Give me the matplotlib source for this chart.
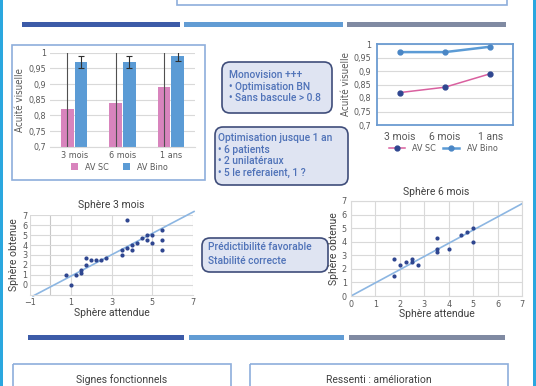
import matplotlib
matplotlib.use("Agg")
import matplotlib.pyplot as plt
from matplotlib.patches import Rectangle, FancyBboxPatch
import numpy as np

W, H = 536, 386

periods = ["3 mois", "6 mois", "1 ans"]
av_sc = [0.82, 0.84, 0.89]
av_bino = [0.97, 0.97, 0.99]
err_sc = [0.2, 0.2, 0.2]
err_bino = [0.018, 0.018, 0.015]
acuity_ticks = [0.7, 0.75, 0.8, 0.85, 0.9, 0.95, 1.0]
acuity_labels = ["0,7", "0,75", "0,8", "0,85", "0,9", "0,95", "1"]

# sphere 3 mois (attendue, obtenue)
x3 = [0.75, 1.0, 1.25, 1.5, 1.5, 1.75, 1.75, 2.0, 2.25, 2.5, 2.75, 3.5, 3.5,
      3.75, 3.75, 4.0, 4.0, 4.25, 4.5, 4.75, 4.75, 5.0, 5.0, 5.5, 5.5, 5.5]
y3 = [1.0, 0.0, 1.0, 1.5, 1.25, 2.75, 2.0, 2.5, 2.5, 2.5, 2.75, 3.0, 3.5,
      6.5, 3.75, 4.0, 3.5, 4.25, 4.75, 5.0, 4.5, 5.0, 4.25, 5.5, 4.5, 3.5]
trend3_x = [-0.85, 7.05]
trend3_y = [-1.1, 7.35]

# sphere 6 mois
x6 = [1.75, 1.75, 2.0, 2.25, 2.5, 2.5, 2.75, 3.5, 3.5, 3.5, 4.0, 4.5, 4.75, 5.0, 5.0]
y6 = [2.75, 1.5, 2.25, 2.5, 2.75, 2.5, 2.25, 4.25, 3.5, 3.25, 3.5, 4.5, 4.75, 5.0, 4.0]
trend6_x = [0, 7]
trend6_y = [0, 6.8]

box_mono = ["Monovision +++", "\u2022 Optimisation BN", "\u2022 Sans bascule > 0.8"]
box_optim = ["Optimisation jusque 1 an", "\u2022 6 patients", "\u2022 2 unilat\u00e9raux",
             "\u2022 5 le referaient, 1 ?"]
box_pred = ["Pr\u00e9dictibilit\u00e9 favorable", "Stabilit\u00e9 correcte"]

# --- colours ---
pink = "#d884bd"
blue = "#5b9bd5"
navy = "#2f4690"
grid_c = "#d9d9d9"
tick_c = "#595959"
frame_c = "#8eaedb"
box_font = ["Roboto", "DejaVu Sans"]

plt.rcParams["font.family"] = ["DejaVu Sans"]
plt.rcParams["font.stretch"] = "condensed"


def rect(x0, y0, x1, y1):
    return [x0 / W, 1 - y1 / H, (x1 - x0) / W, (y1 - y0) / H]


fig = plt.figure(figsize=(W / 100, H / 100), dpi=100)

# background layer in pixel coordinates
bg = fig.add_axes([0, 0, 1, 1])
bg.set_xlim(0, W)
bg.set_ylim(H, 0)
bg.axis("off")

bg.add_patch(Rectangle((0, 0), 3, H, color="#2aa7df", lw=0))
bg.add_patch(Rectangle((533, 0), 3, H, color="#2aa7df", lw=0))
bg.add_patch(Rectangle((177, -5), 330, 10, fill=False, ec=frame_c, lw=1.2))

bar_rows = [(22, [(22, 180), (184, 343), (347, 506)]),
            (335, [(28, 184), (189, 344), (349, 505)])]
for y, segs in bar_rows:
    for (a, b), c in zip(segs, ["#3c5ba8", "#629cd4", "#808aa2"]):
        bg.add_patch(Rectangle((a, y), b - a, 5, color=c, lw=0))

# chart frames
bg.add_patch(Rectangle((12, 45), 193, 135, fill=False, ec=frame_c, lw=1.2))
bg.add_patch(Rectangle((13, 364), 218, 30, fill=False, ec=frame_c, lw=1.2))
bg.add_patch(Rectangle((250, 364), 258, 30, fill=False, ec=frame_c, lw=1.2))
bg.text(122, 380, "Signes fonctionnels", ha="center", va="center", fontsize=7.5,
        color="#404040", family=box_font, stretch="normal")
bg.text(379, 380, "Ressenti : am\u00e9lioration", ha="center", va="center", fontsize=7.5,
        color="#404040", family=box_font, stretch="normal")


def text_box(x0, y0, x1, y1, lines, tx, ty, step):
    bg.add_patch(FancyBboxPatch((x0, y0), x1 - x0, y1 - y0,
                                boxstyle="round,pad=0,rounding_size=8",
                                fc="#dfe4f2", ec="#3f4d7a", lw=1.2))
    for i, line in enumerate(lines):
        bg.text(tx, ty + i * step, line, ha="left", va="center", fontsize=7.4,
                color="#4f72b8", family=box_font, fontweight="medium", stretch="normal")


text_box(222, 62, 332, 113, box_mono, 229, 75, 11.7)
text_box(215, 127, 348, 185, box_optim, 218, 138, 11.7)
text_box(202, 238, 328, 272, box_pred, 208, 247, 14.5)

x = np.arange(len(periods))

# --- bar chart ---
ax1 = fig.add_axes(rect(50, 52.7, 195, 146.7))
ax1.bar(x - 0.14, av_sc, 0.26, color=pink, label="AV SC", zorder=2,
        yerr=err_sc, error_kw=dict(ecolor="#505050", elinewidth=0.8, capsize=0))
ax1.bar(x + 0.14, av_bino, 0.26, color=blue, label="AV Bino", zorder=2,
        yerr=err_bino, error_kw=dict(ecolor="#303030", elinewidth=0.8, capsize=2, capthick=0.8))
ax1.set_xlim(-0.5, 2.5)
ax1.set_ylim(0.7, 1.0)
ax1.set_yticks(acuity_ticks, acuity_labels)
ax1.set_xticks(x, periods)
ax1.grid(axis="y", color=grid_c, lw=0.8, zorder=0)
for s in ax1.spines.values():
    s.set_visible(False)
ax1.spines["bottom"].set_visible(True)
ax1.spines["bottom"].set_color(grid_c)
ax1.tick_params(length=0, labelsize=6.5, colors=tick_c, pad=3)
ax1.set_ylabel("Acuit\u00e9 visuelle", fontsize=7, color=tick_c, labelpad=2)
ax1.legend(loc="center", bbox_to_anchor=(0.48, -0.22), ncol=2, frameon=False,
           fontsize=6.5, handlelength=0.8, handleheight=0.8, columnspacing=1.5,
           labelcolor=tick_c)

# --- line chart ---
ax2 = fig.add_axes(rect(377, 44, 513, 125))
ax2.plot(x, av_sc, color="#d9609f", lw=1.1, marker="o", ms=3.5, mfc=navy, mec=navy,
         label="AV SC", zorder=3)
ax2.plot(x, av_bino, color=blue, lw=1.8, marker="o", ms=3.5, mfc="#4a86c5", mec="#4a86c5",
         label="AV Bino", zorder=3)
ax2.set_xlim(-0.5, 2.5)
ax2.set_ylim(0.7, 1.0)
ax2.set_yticks(acuity_ticks, acuity_labels)
ax2.set_xticks(x, periods)
ax2.grid(axis="y", color=grid_c, lw=0.8, zorder=0)
for s in ax2.spines.values():
    s.set_color("#6b9bd1")
    s.set_linewidth(1.3)
ax2.tick_params(axis="y", length=0, labelsize=6.5, colors=tick_c, pad=4)
ax2.tick_params(axis="x", length=0, labelsize=7.5, colors=tick_c, pad=5)
for lab in ax2.get_xticklabels():
    lab.set_family(box_font)
    lab.set_stretch("normal")
ax2.set_ylabel("Acuit\u00e9 visuelle", fontsize=7, color=tick_c, labelpad=2)
ax2.legend(loc="center", bbox_to_anchor=(0.485, -0.29), ncol=2, frameon=False,
           fontsize=6.5, handlelength=1.8, columnspacing=0.8, labelcolor=tick_c)

# --- scatter 3 mois ---
ax3 = fig.add_axes(rect(30, 215, 193, 295))
ax3.plot(trend3_x, trend3_y, color="#8cb6e2", lw=1.2, clip_on=False, zorder=2)
ax3.scatter(x3, y3, s=9, color=navy, zorder=3, lw=0)
ax3.set_xlim(-1, 7)
ax3.set_ylim(-1, 7)
ax3.set_xticks([-1, 1, 3, 5, 7])
ax3.set_yticks(range(0, 8))
ax3.axvline(0, color="#c8c8c8", lw=0.8, zorder=1)
ax3.grid(color=grid_c, lw=0.8, zorder=0)
for s in ax3.spines.values():
    s.set_visible(False)
ax3.spines["bottom"].set_visible(True)
ax3.spines["bottom"].set_color(grid_c)
ax3.tick_params(length=0, labelsize=6.5, colors=tick_c, pad=2)
ax3.set_title("Sph\u00e8re 3 mois", fontsize=7.5, color="#404040", pad=5, family=box_font,
              stretch="normal")
ax3.set_xlabel("Sph\u00e8re attendue", fontsize=7.5, color="#404040", labelpad=1,
               family=box_font, stretch="normal")
ax3.set_ylabel("Sph\u00e8re obtenue", fontsize=7.5, color="#404040", labelpad=2,
               family=box_font, stretch="normal")

# --- scatter 6 mois ---
ax4 = fig.add_axes(rect(351, 201, 522, 296))
ax4.plot(trend6_x, trend6_y, color="#8cb6e2", lw=1.2, zorder=2)
ax4.scatter(x6, y6, s=9, color=navy, zorder=3, lw=0)
ax4.set_xlim(0, 7)
ax4.set_ylim(0, 7)
ax4.set_xticks(range(0, 8))
ax4.set_yticks(range(0, 8))
ax4.grid(color=grid_c, lw=0.8, zorder=0)
for s in ax4.spines.values():
    s.set_color(grid_c)
ax4.tick_params(length=0, labelsize=6.5, colors=tick_c, pad=3)
ax4.set_title("Sph\u00e8re 6 mois", fontsize=7.5, color="#404040", pad=4, family=box_font,
              stretch="normal")
ax4.set_xlabel("Sph\u00e8re attendue", fontsize=7.5, color="#404040", labelpad=0,
               family=box_font, stretch="normal")
ax4.set_ylabel("Sph\u00e8re obtenue", fontsize=7.5, color="#404040", labelpad=2,
               family=box_font, stretch="normal")

fig.savefig("out.png", dpi=100)
